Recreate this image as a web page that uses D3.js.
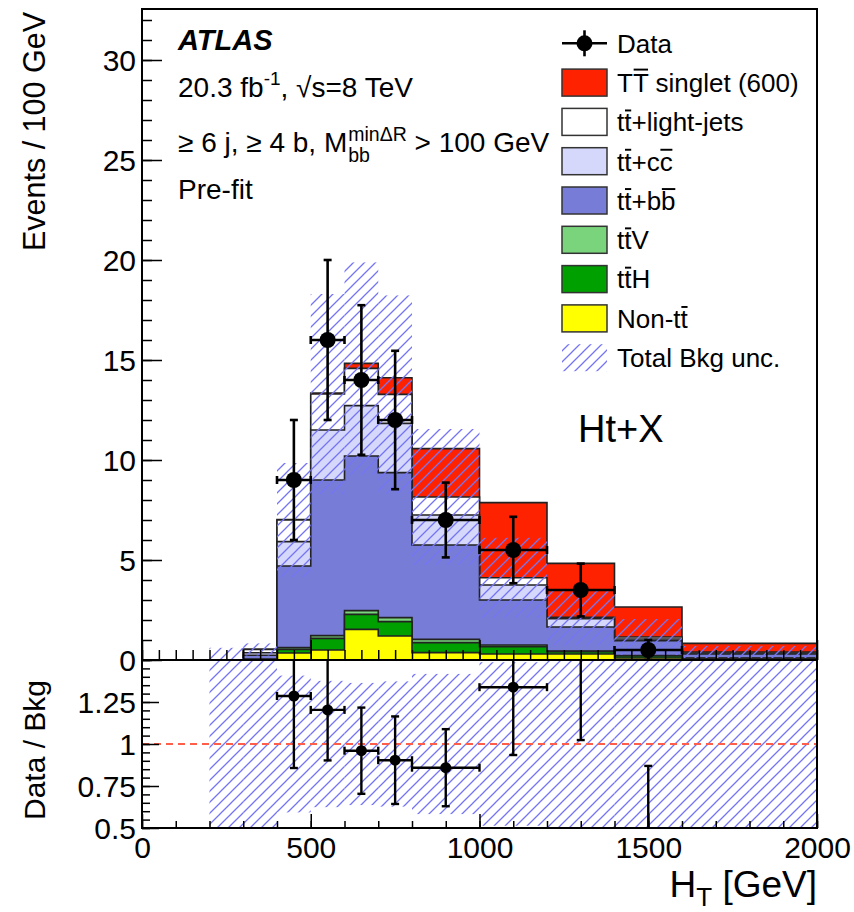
<!DOCTYPE html>
<html>
<head>
<meta charset="utf-8">
<script src="https://cdn.jsdelivr.net/npm/d3@7"></script>
<style>
  body { margin: 0; background: #fff; }
  svg { display: block; font-family: "Liberation Sans", Arial, Helvetica, sans-serif; }
</style>
</head>
<body>
<svg id="chart" width="854" height="912"></svg>
<script>
// ---- Histogram binning (GeV) ----
const binEdges = [200, 300, 400, 500, 600, 700, 800, 1000, 1200, 1400, 1600, 1800, 2000];

// ---- Stacked contributions, Events / 100 GeV, one value per bin ----
const nonTT   = [0, 0.02, 0.35, 0.50, 1.53, 1.20, 0.37, 0.30, 0.30, 0.10, 0.03, 0.03];
const ttH     = [0, 0.01, 0.18, 0.58, 0.75, 0.72, 0.50, 0.37, 0.12, 0.10, 0.05, 0.05];
const ttV     = [0, 0.01, 0.09, 0.14, 0.19, 0.20, 0.16, 0.08, 0.03, 0.02, 0.02, 0.02];
const ttbb    = [0.01, 0.20, 4.08, 7.78, 7.73, 7.25, 4.72, 2.25, 1.20, 0.75, 0.20, 0.20];
const ttcc    = [0, 0.12, 1.22, 2.50, 2.52, 2.46, 1.50, 0.75, 0.41, 0.08, 0.05, 0.05];
const ttlight = [0, 0.17, 1.08, 1.80, 1.86, 1.45, 0.90, 0.36, 0.07, 0.10, 0.05, 0.05];
const signal  = [0, 0, 0.02, 0.05, 0.25, 0.83, 2.42, 3.76, 2.70, 1.50, 0.43, 0.43];

// Total background uncertainty (absolute, Events / 100 GeV)
const bkgUnc  = [0.60, 0.30, 2.85, 5.00, 5.30, 4.95, 3.40, 2.00, 1.40, 0.90, 0.30, 0.30];

// Observed data (Events / 100 GeV) and its error; null = no entry
const dataVals = [null, null, 9, 16, 14, 12, 7, 5.5, 3.5, 0.5, null, null];
const dataErr  = [null, null, 3.0, 4.0, 3.74, 3.46, 1.87, 1.66, 1.32, 0.5, null, null];

// ---- Axis ticks and labels ----
const yMajorTicks  = [0, 5, 10, 15, 20, 25, 30];
const ratioLabels  = [0.5, 0.75, 1, 1.25];
const xLabelTicks  = [0, 500, 1000, 1500, 2000];

// ---- Legend entries ----
const legendLabels = ["Data", "TT singlet (600)", "tt+light-jets", "tt+cc", "tt+bb", "ttV", "ttH", "Non-tt", "Total Bkg unc."];
const legendBars   = [[], [1], [1], [1, 4], [1, 4], [1], [1], [5], []];

// ---- Layout ----
const L = 142, R = 817, T = 9, B0 = 660, B1 = 828;
const FONT = 30;

const svg = d3.select("#chart");
const x  = d3.scaleLinear().domain([0, 2000]).range([L, R]);
const y  = d3.scaleLinear().domain([0, 32.55]).range([B0, T]);
const yr = d3.scaleLinear().domain([0.5, 1.5]).range([B1, B0]);

const defs = svg.append("defs");
const pat = defs.append("pattern").attr("id", "hatch")
  .attr("patternUnits", "userSpaceOnUse").attr("width", 11).attr("height", 11);
pat.append("path")
  .attr("d", "M-2,13 L13,-2 M-2,2 L2,-2 M9,13 L13,9")
  .attr("stroke", "#7474f5").attr("stroke-width", 1.3).attr("fill", "none");

defs.append("clipPath").attr("id", "clipTop")
  .append("rect").attr("x", L).attr("y", T).attr("width", R - L).attr("height", B0 - T);
defs.append("clipPath").attr("id", "clipRatio")
  .append("rect").attr("x", L).attr("y", B0).attr("width", R - L).attr("height", B1 - B0);

// ---- Build the stack ----
const layers = [
  { vals: nonTT,   color: "#ffff00" },
  { vals: ttH,     color: "#00a000" },
  { vals: ttV,     color: "#79d47b" },
  { vals: ttbb,    color: "#777dd7" },
  { vals: ttcc,    color: "#d5d7fb" },
  { vals: ttlight, color: "#ffffff" },
  { vals: signal,  color: "#ff2200" }
];
let cum = binEdges.slice(1).map(() => 0);
layers.forEach(l => {
  cum = cum.map((c, i) => c + l.vals[i]);
  l.tops = cum.slice();
});
const bkgTotal = layers[5].tops;

function stepPath(tops, ys) {
  let p = `M${x(binEdges[0])},${ys(0)}`;
  tops.forEach((t, i) => {
    p += `L${x(binEdges[i])},${ys(t)}L${x(binEdges[i + 1])},${ys(t)}`;
  });
  p += `L${x(binEdges[binEdges.length - 1])},${ys(0)}Z`;
  return p;
}

const mainG = svg.append("g").attr("clip-path", "url(#clipTop)");
layers.slice().reverse().forEach(l => {
  mainG.append("path").attr("d", stepPath(l.tops, y))
    .attr("fill", l.color).attr("stroke", "#222").attr("stroke-width", 1.6)
    .attr("stroke-linejoin", "miter");
});

// uncertainty band on the background
const bins = d3.range(binEdges.length - 1);
mainG.selectAll("rect.band").data(bins).join("rect").attr("class", "band")
  .attr("x", i => x(binEdges[i]))
  .attr("width", i => x(binEdges[i + 1]) - x(binEdges[i]))
  .attr("y", i => y(bkgTotal[i] + bkgUnc[i]))
  .attr("height", i => y(Math.max(0, bkgTotal[i] - bkgUnc[i])) - y(bkgTotal[i] + bkgUnc[i]))
  .attr("fill", "url(#hatch)");

// ---- Data points with error bars ----
function drawPoint(g, i, v, e, ys, r, sw, cap) {
  const x0 = x(binEdges[i]), x1 = x(binEdges[i + 1]), cx = x((binEdges[i] + binEdges[i + 1]) / 2);
  const yv = ys(v), ylo = ys(v - e), yhi = ys(v + e);
  const s = g.append("g").attr("stroke", "#000").attr("stroke-width", sw);
  s.append("line").attr("x1", cx).attr("x2", cx).attr("y1", ylo).attr("y2", yhi);
  s.append("line").attr("x1", cx - cap).attr("x2", cx + cap).attr("y1", ylo).attr("y2", ylo);
  s.append("line").attr("x1", cx - cap).attr("x2", cx + cap).attr("y1", yhi).attr("y2", yhi);
  s.append("line").attr("x1", x0).attr("x2", x1).attr("y1", yv).attr("y2", yv);
  s.append("line").attr("x1", x0).attr("x2", x0).attr("y1", yv - cap).attr("y2", yv + cap);
  s.append("line").attr("x1", x1).attr("x2", x1).attr("y1", yv - cap).attr("y2", yv + cap);
  g.append("circle").attr("cx", cx).attr("cy", yv).attr("r", r).attr("fill", "#000");
}
bins.forEach(i => {
  if (dataVals[i] !== null) drawPoint(mainG, i, dataVals[i], dataErr[i], y, 8, 2.6, 4);
});

// ---- Ratio panel ----
const ratG = svg.append("g").attr("clip-path", "url(#clipRatio)");
ratG.selectAll("rect.rband").data(bins).join("rect").attr("class", "rband")
  .attr("x", i => x(binEdges[i]))
  .attr("width", i => x(binEdges[i + 1]) - x(binEdges[i]))
  .attr("y", i => Math.max(B0 - 5, yr(1 + bkgUnc[i] / bkgTotal[i])))
  .attr("height", i => Math.min(B1 + 5, yr(1 - bkgUnc[i] / bkgTotal[i])) - Math.max(B0 - 5, yr(1 + bkgUnc[i] / bkgTotal[i])))
  .attr("fill", "url(#hatch)");
ratG.append("line").attr("x1", L).attr("x2", R).attr("y1", yr(1)).attr("y2", yr(1))
  .attr("stroke", "#ff5f4a").attr("stroke-width", 2).attr("stroke-dasharray", "7,5");
bins.forEach(i => {
  if (dataVals[i] !== null)
    drawPoint(ratG, i, dataVals[i] / bkgTotal[i], dataErr[i] / bkgTotal[i], yr, 5.5, 2.4, 4);
});

// ---- Axes ----
function styleAxis(g) {
  g.select(".domain").remove();
  g.selectAll(".tick line").attr("stroke", "#000").attr("stroke-width", 1.5);
  g.selectAll(".tick text").attr("font-size", FONT).attr("font-family", null).attr("fill", "#000");
}
// upper panel
svg.append("g").attr("transform", `translate(${L},0)`)
  .call(d3.axisLeft(y).tickValues(d3.range(0, 33, 1)).tickSize(-10).tickFormat(""))
  .call(styleAxis);
svg.append("g").attr("transform", `translate(${L},0)`)
  .call(d3.axisLeft(y).tickValues(yMajorTicks).tickSize(-20).tickPadding(6).tickFormat(d3.format("d")))
  .call(styleAxis)
  .call(g => g.selectAll(".tick text").attr("dy", "0.36em"));
svg.append("g").attr("transform", `translate(0,${B0})`)
  .call(d3.axisBottom(x).tickValues(d3.range(0, 2001, 50)).tickSize(-10).tickFormat(""))
  .call(styleAxis);
svg.append("g").attr("transform", `translate(0,${B0})`)
  .call(d3.axisBottom(x).tickValues(xLabelTicks).tickSize(-20).tickFormat(""))
  .call(styleAxis);
// ratio panel
svg.append("g").attr("transform", `translate(${L},0)`)
  .call(d3.axisLeft(yr).tickValues(d3.range(0.5, 1.5001, 0.05)).tickSize(-8).tickFormat(""))
  .call(styleAxis);
svg.append("g").attr("transform", `translate(${L},0)`)
  .call(d3.axisLeft(yr).tickValues(ratioLabels).tickSize(-17).tickPadding(6).tickFormat(d => String(d)))
  .call(styleAxis)
  .call(g => g.selectAll(".tick text").attr("dy", "0.36em"));
svg.append("g").attr("transform", `translate(0,${B1})`)
  .call(d3.axisBottom(x).tickValues(d3.range(0, 2001, 100)).tickSize(-7).tickFormat(""))
  .call(styleAxis);
svg.append("g").attr("transform", `translate(0,${B1})`)
  .call(d3.axisBottom(x).tickValues(xLabelTicks).tickSize(-14).tickPadding(9).tickFormat(d3.format("d")))
  .call(styleAxis);

// frames
svg.append("rect").attr("x", L).attr("y", T).attr("width", R - L).attr("height", B0 - T)
  .attr("fill", "none").attr("stroke", "#000").attr("stroke-width", 2);
svg.append("rect").attr("x", L).attr("y", B0).attr("width", R - L).attr("height", B1 - B0)
  .attr("fill", "none").attr("stroke", "#000").attr("stroke-width", 2);

// ---- Axis titles ----
svg.append("text").attr("transform", "translate(45,12) rotate(-90)")
  .attr("text-anchor", "end").attr("font-size", 30.5).text("Events / 100 GeV");
svg.append("text").attr("transform", "translate(45,750) rotate(-90)")
  .attr("text-anchor", "middle").attr("font-size", FONT).text("Data / Bkg");
const xt = svg.append("text").attr("x", R).attr("y", 897).attr("text-anchor", "end").attr("font-size", 37);
xt.append("tspan").text("H");
xt.append("tspan").attr("font-size", 26).attr("dy", 9).text("T");
xt.append("tspan").attr("dy", -9).text(" [GeV]");

// ---- Labels inside the plot ----
const TX = 178, TS = 28;
svg.append("text").attr("x", TX).attr("y", 50).attr("font-size", 29)
  .attr("font-weight", "bold").attr("font-style", "italic").text("ATLAS");
const lumi = svg.append("text").attr("x", TX).attr("y", 97).attr("font-size", TS);
lumi.append("tspan").text("20.3 fb");
lumi.append("tspan").attr("font-size", 19).attr("dy", -12).text("-1");
lumi.append("tspan").attr("dy", 12).text(", √s=8 TeV");

const selY = 152;
const sel1 = svg.append("text").attr("x", TX).attr("y", selY).attr("font-size", TS).text("≥ 6 j, ≥ 4 b, M");
const xM = TX + sel1.node().getComputedTextLength() + 1;
const sup = svg.append("text").attr("x", xM).attr("y", selY - 11).attr("font-size", 19.5).text("minΔR");
const sub = svg.append("text").attr("x", xM).attr("y", selY + 10).attr("font-size", 19.5).text("bb");
const xRest = xM + Math.max(sup.node().getComputedTextLength(), sub.node().getComputedTextLength());
svg.append("text").attr("x", xRest).attr("y", selY).attr("font-size", TS)
  .style("white-space", "pre").text(" > 100 GeV");

svg.append("text").attr("x", TX).attr("y", 199).attr("font-size", TS).text("Pre-fit");
svg.append("text").attr("x", 578).attr("y", 442).attr("font-size", 38).text("Ht+X");

// ---- Legend ----
function barredText(g, xp, yp, str, bars, size) {
  const t = g.append("text").attr("x", xp).attr("y", yp).attr("font-size", size).text(str);
  const node = t.node();
  bars.forEach(i => {
    const s = node.getStartPositionOfChar(i), e = node.getEndPositionOfChar(i);
    const isUpper = /[A-Z]/.test(str[i]);
    const by = yp - size * (isUpper ? 0.86 : 0.80);
    g.append("line").attr("x1", s.x + size * 0.03).attr("x2", e.x - size * 0.01)
      .attr("y1", by).attr("y2", by).attr("stroke", "#000").attr("stroke-width", size * 0.075);
  });
}
const leg = svg.append("g");
const LS = 26, legX = 562, boxW = 45, boxH = 27, legY0 = 43.3, legDY = 39.3;
const legendFill = [null, "#ff2200", "#ffffff", "#d5d7fb", "#777dd7", "#79d47b", "#00a000", "#ffff00", "url(#hatch)"];
legendLabels.forEach((lab, k) => {
  const cy = legY0 + k * legDY;
  if (k === 0) {
    const cx = legX + boxW / 2;
    leg.append("line").attr("x1", legX).attr("x2", legX + boxW).attr("y1", cy).attr("y2", cy)
      .attr("stroke", "#000").attr("stroke-width", 2.6);
    leg.append("line").attr("x1", cx).attr("x2", cx).attr("y1", cy - 13).attr("y2", cy + 13)
      .attr("stroke", "#000").attr("stroke-width", 2.6);
    leg.append("circle").attr("cx", cx).attr("cy", cy).attr("r", 8).attr("fill", "#000");
  } else {
    const isHatch = k === legendLabels.length - 1;
    leg.append("rect").attr("x", legX).attr("y", cy - boxH / 2).attr("width", boxW).attr("height", boxH)
      .attr("fill", legendFill[k])
      .attr("stroke", isHatch ? "none" : "#333").attr("stroke-width", 1.5);
  }
  barredText(leg, 617, cy + LS * 0.36, lab, legendBars[k], LS);
});
</script>
</body>
</html>
